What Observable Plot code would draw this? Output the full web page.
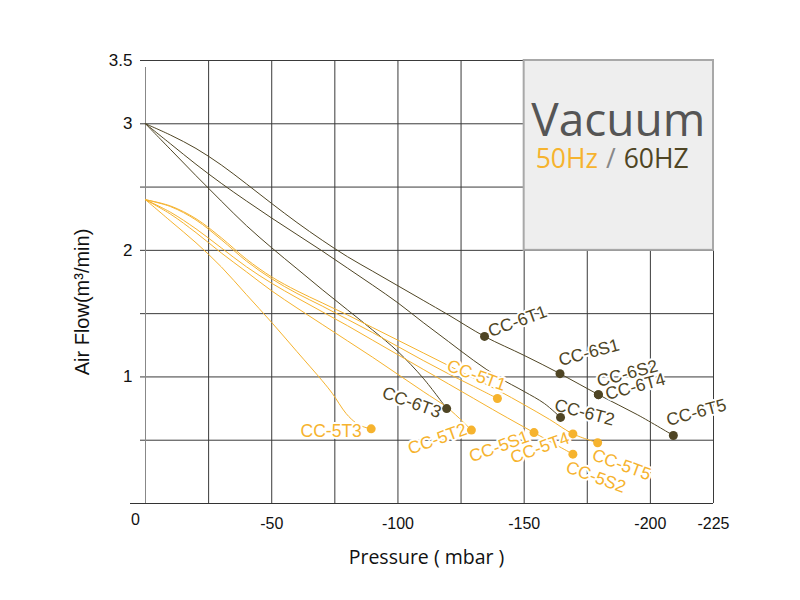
<!DOCTYPE html>
<html><head><meta charset="utf-8">
<script src="https://cdn.jsdelivr.net/npm/d3@7"></script>
<script src="https://cdn.jsdelivr.net/npm/@observablehq/plot@0.6"></script>
<style>body{margin:0;background:#fff}</style>
</head><body><div id="chart"></div>
<script>
// ---- axis ticks ----
const xTicks = [0, -50, -100, -150, -200, -225];
const yTicks = [1, 2, 3, 3.5];
const xGrid = [-25, -50, -75, -100, -125, -150, -175, -200, -225];
const yGrid = [0.5, 1, 1.5, 2, 2.5, 3, 3.5];

// ---- 60Hz curves [pressure mbar, air flow m3/min] ----
const path6T1_6S1_6S2_6T4_6T5 = [[0,3],[-10,2.91],[-20,2.805],[-30,2.675],[-40,2.525],[-50,2.37],[-60,2.22],[-70,2.08],[-80,1.95],[-90,1.835],[-100,1.72],[-110,1.605],[-120,1.49],[-134.3,1.32],[-150,1.17],[-164.2,1.026],[-179.4,0.86],[-195,0.7],[-209.1,0.537]];
const path6T2 = [[0,3],[-10,2.84],[-20,2.68],[-30,2.53],[-40,2.39],[-50,2.255],[-60,2.125],[-70,1.995],[-80,1.86],[-90,1.725],[-100,1.585],[-110,1.43],[-120,1.28],[-130,1.13],[-140,0.995],[-150,0.885],[-158,0.79],[-164.4,0.68]];
const path6T3 = [[0,3],[-10,2.795],[-20,2.59],[-30,2.39],[-40,2.195],[-50,2.02],[-60,1.855],[-70,1.69],[-80,1.53],[-90,1.37],[-100,1.2],[-110,0.99],[-119.3,0.75]];

// ---- 50Hz curves ----
const path5T4_5T5 = [[0,2.4],[-10,2.35],[-20,2.25],[-30,2.1],[-40,1.93],[-50,1.79],[-60,1.68],[-70,1.585],[-80,1.49],[-90,1.39],[-100,1.29],[-110,1.19],[-120,1.09],[-130,0.99],[-140,0.89],[-150,0.78],[-160,0.665],[-169.3,0.55],[-179.1,0.48]];
const path5T1 = [[0,2.4],[-10,2.345],[-20,2.24],[-30,2.085],[-40,1.915],[-50,1.775],[-60,1.66],[-70,1.56],[-80,1.455],[-90,1.35],[-100,1.24],[-110,1.13],[-120,1.025],[-130,0.925],[-139.4,0.83]];
const path5S1_5S2 = [[0,2.4],[-10,2.3],[-20,2.17],[-30,2.02],[-40,1.87],[-50,1.74],[-60,1.625],[-70,1.515],[-80,1.405],[-90,1.29],[-100,1.175],[-110,1.06],[-120,0.945],[-130,0.83],[-140,0.715],[-153.9,0.56],[-169.3,0.39]];
const path5T2 = [[0,2.4],[-10,2.285],[-20,2.14],[-30,1.98],[-40,1.83],[-50,1.68],[-60,1.545],[-70,1.415],[-80,1.285],[-90,1.155],[-100,1.02],[-110,0.885],[-120,0.75],[-129.1,0.58]];
const path5T3 = [[0,2.4],[-10,2.23],[-20,2.06],[-30,1.87],[-40,1.65],[-50,1.43],[-60,1.2],[-70,0.97],[-74,0.87],[-79.5,0.71],[-83.5,0.635],[-86.5,0.605],[-89.4,0.59]];

// ---- end points ----
const models60 = ["CC-6T1","CC-6S1","CC-6S2","CC-6T4","CC-6T5","CC-6T3","CC-6T2"];
const end60X = [-134.3,-164.2,-179.4,-179.4,-209.1,-119.3,-164.4];
const end60Y = [1.32,1.026,0.86,0.86,0.537,0.75,0.68];
const models50 = ["CC-5T1","CC-5T3","CC-5T2","CC-5S1","CC-5T4","CC-5S2","CC-5T5"];
const end50X = [-139.4,-89.4,-129.1,-153.9,-169.3,-169.3,-179.1];
const end50Y = [0.83,0.59,0.58,0.56,0.55,0.39,0.48];

// ---- text ----
const xTitle = "Pressure ( mbar )";
const yTitle = "Air Flow(m³/min)";
const legendTitle = "Vacuum";
const legendParts = ["50Hz", "/", "60HZ"];

// ---- styles ----
const dark = "#4f4524", orange = "#f6b32e", gridColor = "#3a3a3a";
const legendColors = [orange, "#888", dark];
const labelLayout = { // dx, dy, rotate (pixels / degrees)
  "CC-6T1": [33,-15,-20], "CC-6S1": [29,-21,-15], "CC-6S2": [29,-21,-15], "CC-6T4": [37,-8,-15],
  "CC-6T5": [23,-23,-15], "CC-6T3": [-35,-6,20], "CC-6T2": [24,-5,15],
  "CC-5T1": [-21,-23,20], "CC-5T3": [-40,3,0], "CC-5T2": [-34,9,-20], "CC-5S1": [-35,14,-20],
  "CC-5T4": [-33,14,-20], "CC-5S2": [23,23,20], "CC-5T5": [24,22,20]
};

const ends60 = models60.map((n,i) => ({name:n, x:end60X[i], y:end60Y[i]}));
const ends50 = models50.map((n,i) => ({name:n, x:end50X[i], y:end50Y[i]}));
const lineOpts = c => ({x: d => d[0], y: d => d[1], stroke: c, strokeWidth: 1, curve: "catmull-rom"});
const labelMarks = (ends, color) => ends.map(e => {
  const [dx, dy, r] = labelLayout[e.name];
  return Plot.text([e], {x:"x", y:"y", text:"name", dx, dy, rotate:r, fill:color,
    stroke:"white", strokeWidth:4, fontSize:17.5, textAnchor:"middle", lineAnchor:"middle"});
});

const plot = Plot.plot({
  width: 800, height: 600,
  marginLeft: 145, marginRight: 87, marginTop: 60, marginBottom: 97,
  x: {domain: [0, -225], axis: null},
  y: {domain: [0, 3.5], axis: null},
  style: {fontFamily: "'Liberation Sans', Arial, sans-serif", fontSize: "15px", background: "white", overflow: "visible"},
  marks: [
    Plot.ruleX(xGrid, {y1: 0, y2: 3.5, stroke: gridColor}),
    Plot.ruleY(yGrid, {x1: 0, x2: -225, insetLeft: -5, stroke: gridColor}),
    Plot.ruleX([0], {y1: 0, y2: 3.5, insetBottom: -7, stroke: "#888"}),
    Plot.ruleY([0], {x1: 0, x2: -225, insetLeft: -15, stroke: "#333"}),
    // tick labels
    Plot.text(yTicks, {x: 0, y: d => d, text: d => String(d), dx: -13, textAnchor: "end", fill: "#111", fontSize: 17}),
    Plot.text(xTicks.slice(1), {x: d => d, y: 0, text: d => String(d), dy: 20, fill: "#111", fontSize: 16}),
    Plot.text(xTicks.slice(0,1), {x: d => d, y: 0, text: d => String(d), dx: -10, dy: 16, fill: "#111", fontSize: 16}),
    // titles
    Plot.text([xTitle], {frameAnchor: "bottom", textAnchor: "middle", dx: -3, dy: 60, fontFamily: "'Open Sans', sans-serif", fontSize: 19.5, fill: "#111"}),
    Plot.text([yTitle], {frameAnchor: "left", textAnchor: "middle", rotate: -90, dx: -63, dy: 20, fontSize: 20, fill: "#111"}),
    // curves
    Plot.line(path6T1_6S1_6S2_6T4_6T5, lineOpts(dark)),
    Plot.line(path6T2, lineOpts(dark)),
    Plot.line(path6T3, lineOpts(dark)),
    Plot.line(path5T4_5T5, lineOpts(orange)),
    Plot.line(path5T1, lineOpts(orange)),
    Plot.line(path5S1_5S2, lineOpts(orange)),
    Plot.line(path5T2, lineOpts(orange)),
    Plot.line(path5T3, lineOpts(orange)),
    ...labelMarks(ends60, dark),
    ...labelMarks(ends50, orange),
    Plot.dot(ends60, {x: "x", y: "y", r: 4.5, fill: dark}),
    Plot.dot(ends50, {x: "x", y: "y", r: 4.5, fill: orange})
  ]
});
document.getElementById("chart").appendChild(plot);

// legend box in the upper-right grid cells
const sx = plot.scale("x"), sy = plot.scale("y");
const svg = d3.select(plot);
const bx1 = sx.apply(xTicks[3]), bx2 = sx.apply(xTicks[5]);
const by1 = sy.apply(yTicks[3]), by2 = sy.apply(yTicks[1]);
svg.append("rect").attr("x", bx1).attr("y", by1).attr("width", bx2 - bx1).attr("height", by2 - by1)
  .attr("fill", "#eeeeee").attr("stroke", "#a8a8a8").attr("stroke-width", 2);
svg.append("text").attr("x", (bx1 + bx2) / 2).attr("y", by1 + 76).attr("text-anchor", "middle")
  .style("font-family", "'Open Sans', sans-serif").style("font-size", "46px").attr("fill", "#555").text(legendTitle);
let cx = bx1 + 12;
legendParts.forEach((p, i) => {
  const t = svg.append("text").attr("x", cx).attr("y", by1 + 108).attr("text-anchor", "start")
    .style("font-family", "'Open Sans', sans-serif").style("font-size", "26.5px").attr("fill", legendColors[i]).text(p);
  cx += t.node().getComputedTextLength() + 8;
});
</script>
</body></html>
